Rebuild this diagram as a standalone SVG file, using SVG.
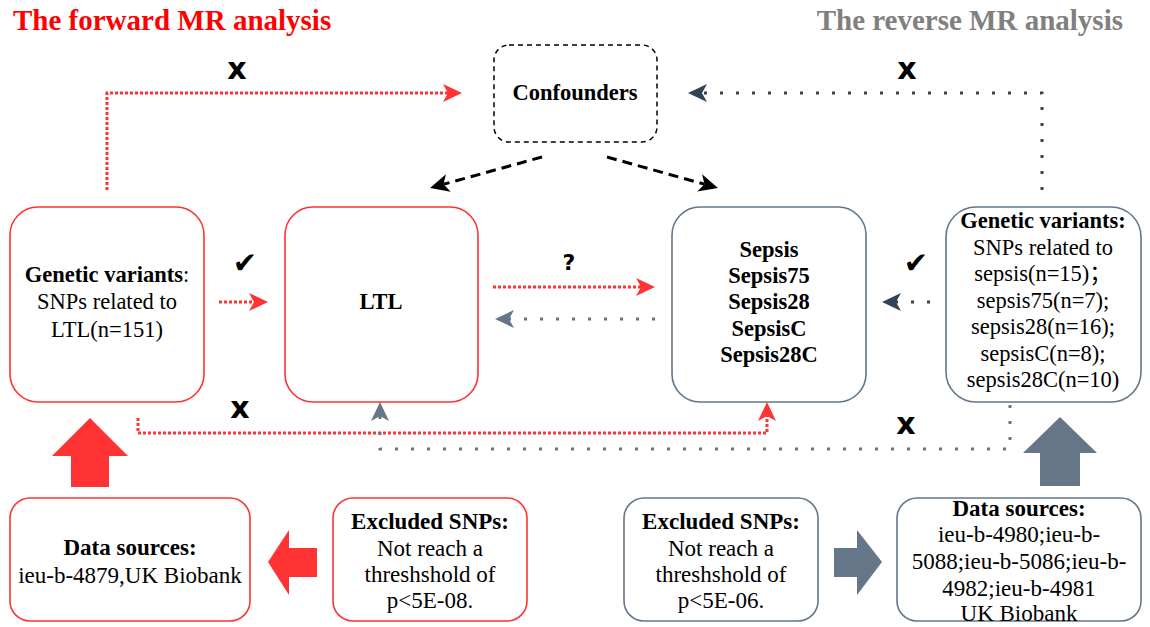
<svg xmlns="http://www.w3.org/2000/svg" width="1150" height="627" viewBox="0 0 1150 627">
<style>
.t{font-family:Liberation Serif,Noto Sans CJK SC,serif;font-size:22.5px;fill:#000;text-anchor:middle}
.b{font-weight:bold}
.bs{font-family:Liberation Serif,serif;font-size:23px;fill:#000;text-anchor:middle}
.red{fill:#fff;stroke:#ff3333;stroke-width:1.6}
.gry{fill:#fff;stroke:#647687;stroke-width:1.6}
.mk{font-family:DejaVu Sans,sans-serif;font-weight:bold;fill:#000;text-anchor:middle}
.ck{font-family:DejaVu Sans,sans-serif;font-size:29px;fill:#000;text-anchor:middle}
.rd{fill:none;stroke:#ff3333;stroke-width:3;stroke-dasharray:3 2}
.nv{fill:none;stroke:#314354;stroke-width:3;stroke-dasharray:3 13}
.sl{fill:none;stroke:#647687;stroke-width:3;stroke-dasharray:3 13}
.bk{fill:none;stroke:#000;stroke-width:3;stroke-dasharray:10 6}
</style>
<defs>
<marker id="hr" markerUnits="userSpaceOnUse" markerWidth="19" markerHeight="18" refX="5" refY="9" orient="auto"><path d="M0,0 L19,9 L0,18 L5,9 Z" fill="#ff3333"/></marker>
<marker id="hn" markerUnits="userSpaceOnUse" markerWidth="19" markerHeight="18" refX="5" refY="9" orient="auto"><path d="M0,0 L19,9 L0,18 L5,9 Z" fill="#314354"/></marker>
<marker id="hs" markerUnits="userSpaceOnUse" markerWidth="19" markerHeight="18" refX="5" refY="9" orient="auto"><path d="M0,0 L19,9 L0,18 L5,9 Z" fill="#647687"/></marker>
<marker id="hb" markerUnits="userSpaceOnUse" markerWidth="19" markerHeight="18" refX="5" refY="9" orient="auto"><path d="M0,0 L19,9 L0,18 L5,9 Z" fill="#000"/></marker>
</defs>

<text x="13" y="30" font-family="Liberation Serif,serif" font-weight="bold" font-size="29" fill="#ff0000">The forward MR analysis</text>
<text x="1123" y="30" font-family="Liberation Serif,serif" font-weight="bold" font-size="29" fill="#808080" text-anchor="end">The reverse MR analysis</text>

<g id="connectors">
<path class="rd" d="M107,190 V93 H448" marker-end="url(#hr)"/>
<path class="nv" d="M1042,190 V93 H702" marker-end="url(#hn)"/>
<path class="bk" d="M542,157 L443.5,184.3" marker-end="url(#hb)"/>
<path class="bk" d="M607,157 L704.5,184.2" marker-end="url(#hb)"/>
<path class="rd" d="M219,302 H254" marker-end="url(#hr)"/>
<path class="nv" d="M930,302 H896" marker-end="url(#hn)"/>
<path class="rd" d="M493,287 H641" marker-end="url(#hr)"/>
<path class="sl" d="M655,319 H509" marker-end="url(#hs)"/>
<path class="rd" d="M138,418 V433 H767 V416" marker-end="url(#hr)"/>
<path class="sl" d="M1010,405 V449 H380 V416" marker-end="url(#hs)"/>
<polygon points="90,418 128,456 109,456 109,487 71,487 71,456 52,456" fill="#ff3333"/>
<polygon points="1060,417 1097,453 1080,453 1080,486 1040,486 1040,453 1023,453" fill="#647687"/>
<polygon points="268,562 289,530 289,548 317,548 317,577 289,577 289,595" fill="#ff3333"/>
<polygon points="882,562 857,530 857,548 834,548 834,577 857,577 857,595" fill="#647687"/>
<text class="mk" x="237" y="79" font-size="30">x</text>
<text class="mk" x="907" y="79" font-size="30">x</text>
<text class="mk" x="240" y="418" font-size="30">x</text>
<text class="mk" x="906" y="434" font-size="30">x</text>
<text class="mk" x="569" y="270" font-size="22">?</text>
<text class="ck" x="245" y="273">✔</text>
<text class="ck" x="916" y="273">✔</text>
</g>

<g id="confounders">
<rect x="494" y="45" width="163" height="97" rx="15" fill="#fff" stroke="#000" stroke-width="1.5" stroke-dasharray="5 4"/>
<text class="t b" x="575" y="100">Confounders</text>
</g>

<g id="gv-left">
<rect class="red" x="10" y="207" width="194" height="195" rx="28"/>
<text class="t" x="107" y="282"><tspan class="b">Genetic variants</tspan>:</text>
<text class="t" x="107" y="309">SNPs related to</text>
<text class="t" x="107" y="337">LTL(n=151)</text>
</g>

<g id="ltl">
<rect class="red" x="285" y="207" width="193" height="195" rx="28"/>
<text class="t b" x="381" y="309">LTL</text>
</g>

<g id="sepsis">
<rect class="gry" x="672" y="207" width="194" height="195" rx="28"/>
<text class="t b" x="769" y="257">Sepsis</text>
<text class="t b" x="769" y="283">Sepsis75</text>
<text class="t b" x="769" y="309">Sepsis28</text>
<text class="t b" x="769" y="336">SepsisC</text>
<text class="t b" x="769" y="362">Sepsis28C</text>
</g>

<g id="gv-right">
<rect class="gry" x="946" y="207" width="195" height="195" rx="30"/>
<text class="t b" x="1043" y="228">Genetic variants:</text>
<text class="t" x="1043" y="254.5">SNPs related to</text>
<text class="t" x="1043" y="281">sepsis(n=15)；</text>
<text class="t" x="1043" y="307.5">sepsis75(n=7);</text>
<text class="t" x="1043" y="334">sepsis28(n=16);</text>
<text class="t" x="1043" y="360.5">sepsisC(n=8);</text>
<text class="t" x="1043" y="387">sepsis28C(n=10)</text>
</g>

<g id="ds-left">
<rect class="red" x="10" y="498" width="240" height="123" rx="20"/>
<text class="bs b" x="130" y="555">Data sources:</text>
<text class="bs" x="130" y="583">ieu-b-4879,UK Biobank</text>
</g>

<g id="ex-left">
<rect class="red" x="333" y="498" width="194" height="123" rx="20"/>
<text class="bs b" x="430" y="529">Excluded SNPs:</text>
<text class="bs" x="430" y="556">Not reach a</text>
<text class="bs" x="430" y="582">threshshold of</text>
<text class="bs" x="430" y="608">p&lt;5E-08.</text>
</g>

<g id="ex-right">
<rect class="gry" x="624" y="498" width="194" height="123" rx="20"/>
<text class="bs b" x="721" y="529">Excluded SNPs:</text>
<text class="bs" x="721" y="556">Not reach a</text>
<text class="bs" x="721" y="582">threshshold of</text>
<text class="bs" x="721" y="608">p&lt;5E-06.</text>
</g>

<g id="ds-right">
<rect class="gry" x="897" y="498" width="244" height="123" rx="20"/>
<text class="bs b" x="1019" y="516">Data sources:</text>
<text class="bs" x="1019" y="542">ieu-b-4980;ieu-b-</text>
<text class="bs" x="1019" y="569">5088;ieu-b-5086;ieu-b-</text>
<text class="bs" x="1019" y="596">4982;ieu-b-4981</text>
<text class="bs" x="1019" y="621">UK Biobank</text>
</g>
</svg>
